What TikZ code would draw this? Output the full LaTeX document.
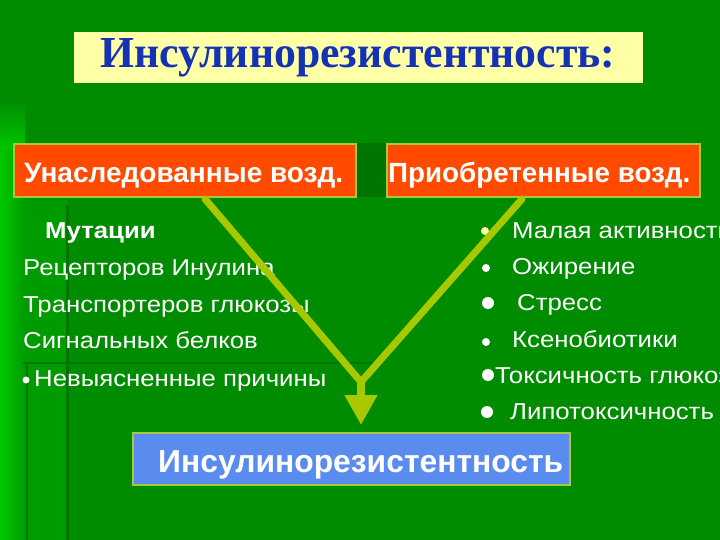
\documentclass[tikz,border=0pt]{standalone}
\usepackage{fontspec}
\setmainfont{Liberation Sans}
\newfontfamily\titleserif{Liberation Serif}
\usetikzlibrary{arrows.meta}
\definecolor{bggreen}{RGB}{0,140,0}
\definecolor{bgbright}{RGB}{0,200,0}
\definecolor{bgmid}{RGB}{0,155,0}
\definecolor{bgdark}{RGB}{0,118,0}
\definecolor{titlefill}{RGB}{255,255,168}
\definecolor{titleblue}{RGB}{20,50,180}
\definecolor{boxorange}{RGB}{255,74,0}
\definecolor{boxblue}{RGB}{90,140,240}
\definecolor{edgegreen}{RGB}{170,200,60}
\definecolor{arrowgreen}{RGB}{168,200,0}
\newcommand\widetext[1]{\scalebox{1.12}[1]{#1}}
\tikzset{
  obox/.style={fill=boxorange, draw=edgegreen, line width=1.2pt, inner sep=0pt},
  bbox/.style={fill=boxblue, draw=edgegreen, line width=1.2pt, inner sep=0pt},
  headtext/.style={text=white, font=\bfseries\fontsize{28}{32}\selectfont, inner sep=0pt, anchor=base west},
  listtext/.style={text=white, font=\fontsize{23}{27}\selectfont, inner sep=0pt, anchor=base west},
  bul/.style={circle, fill=white, inner sep=0pt},
  conn/.style={draw=arrowgreen, line width=7pt, line cap=round}
}
\begin{document}
\begin{tikzpicture}[x=1pt,y=-1pt]
\useasboundingbox (0,0) rectangle (720,540);
\clip (0,0) rectangle (720,540);
% background
\fill[bggreen] (0,0) rectangle (720,540);
\shade[left color=bgbright, right color=bgmid] (0,150) rectangle (25,540);
\shade[top color=bggreen, bottom color=bgbright] (0,100) rectangle (25,150);
\fill[bgmid] (25,200) rectangle (67,540);
\draw[bgdark, line width=2.5pt] (27,365) -- (27,540);
\draw[bgdark, line width=3pt] (67,205) -- (67,540);
\draw[bgdark, line width=2.5pt] (23,363) -- (380,363);
\fill[bgdark] (357,143) rectangle (387,197);
% title
\node[fill=titlefill, minimum width=569pt, minimum height=51pt, inner sep=0pt] (title) at (358.5,57.5) {};
\node[text=titleblue, inner sep=0pt, anchor=base] (titletext) at (358,68)
  {\titleserif\bfseries\resizebox{515pt}{29pt}{Инсулинорезистентность:}};
% header boxes
\node[obox, minimum width=342pt, minimum height=53pt] (inh) at (185,170.5) {};
\node[headtext] (inhtext) at (24,183) {\resizebox{319pt}{!}{Унаследованные возд.}};
\node[obox, minimum width=313pt, minimum height=53pt] (acq) at (543.5,170.5) {};
\node[headtext] (acqtext) at (388,183) {\resizebox{302pt}{!}{Приобретенные возд.}};
% left list
\node[listtext, font=\bfseries\fontsize{23}{27}\selectfont] (mut) at (45,238) {\widetext{Мутации}};
\node[listtext] (l1) at (23,275) {\widetext{Рецепторов Инулина}};
\node[listtext] (l2) at (23,312) {\widetext{Транспортеров глюкозы}};
\node[listtext] (l3) at (23,348) {\widetext{Сигнальных белков}};
\node[bul, minimum size=7pt] (lb) at (26,380) {};
\node[listtext] (l4) at (34,386) {\widetext{Невыясненные причины}};
% right list
\node[bul, fill=titlefill, minimum size=8pt] (rb1) at (485,231) {};
\node[listtext] (r1) at (512,238) {\widetext{Малая активность}};
\node[bul, minimum size=8pt] (rb2) at (486,268) {};
\node[listtext] (r2) at (512,274) {\widetext{Ожирение}};
\node[bul, minimum size=12pt] (rb3) at (488,303) {};
\node[listtext] (r3) at (517,310) {\widetext{Стресс}};
\node[bul, minimum size=8pt] (rb4) at (486,342) {};
\node[listtext] (r4) at (512,347) {\widetext{Ксенобиотики}};
\node[bul, minimum size=12pt] (rb5) at (488,375) {};
\node[listtext] (r5) at (495,383) {\widetext{Токсичность глюкозы}};
\node[bul, minimum size=12pt] (rb6) at (487,412) {};
\node[listtext] (r6) at (510,419) {\widetext{Липотоксичность}};
% result box
\node[bbox, minimum width=437pt, minimum height=52pt] (res) at (351.5,459) {};
\node[headtext] (restext) at (158,472) {\resizebox{405pt}{!}{Инсулинорезистентность}};
% connectors
\coordinate (ls) at (205,199);
\coordinate (rs) at (522,199);
\coordinate (v) at (361,382);
\coordinate (tip) at (361,425);
\draw[conn] (ls) -- (v);
\draw[conn] (rs) -- (v);
\draw[draw=arrowgreen, fill=arrowgreen, line width=8pt, -{Triangle[width=31pt,length=30pt]}] (v) -- (tip);
\end{tikzpicture}
\end{document}
